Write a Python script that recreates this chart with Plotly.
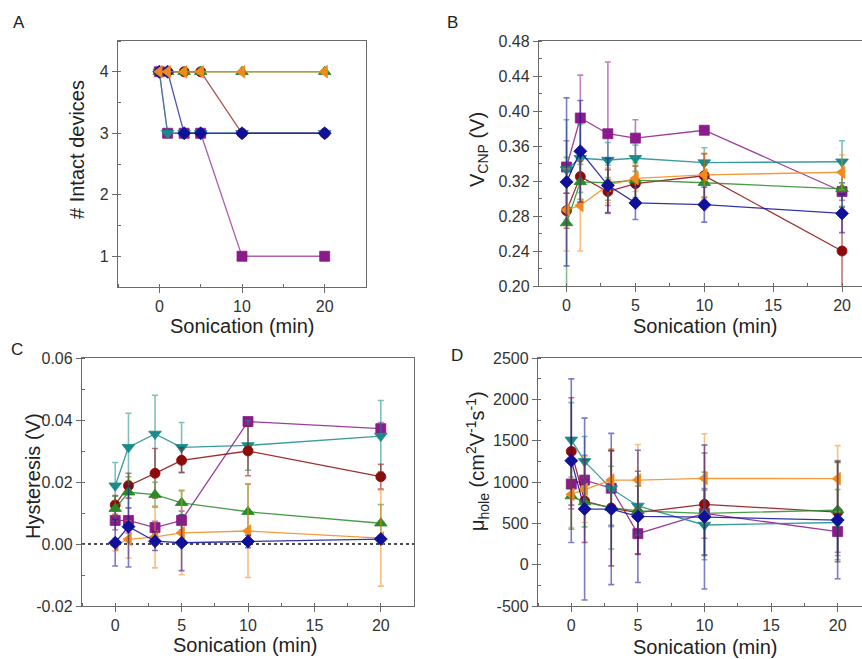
import plotly.graph_objects as go

W, H = 862, 659

# Sonication time points (min)
time = [0, 1, 3, 5, 10, 20]

# Series styling keys
series = ["purple", "red", "green", "teal", "orange", "blue"]
colors = {
    "purple": "#8B1B8B",
    "red": "#8B0A0A",
    "green": "#2A8A2A",
    "teal": "#1A8A8A",
    "orange": "#F08A1C",
    "blue": "#10109A",
}
symbols = {
    "purple": "square",
    "red": "circle",
    "green": "triangle-up",
    "teal": "triangle-down",
    "orange": "triangle-left",
    "blue": "diamond",
}

# (A) number of intact devices
intact_purple = [4, 3, 3, 3, 1, 1]
intact_red = [4, 4, 4, 4, 3, 3]
intact_green = [4, 4, 4, 4, 4, 4]
intact_teal = [4, 3, 3, 3, 3, 3]
intact_orange = [4, 4, 4, 4, 4, 4]
intact_blue = [4, 4, 3, 3, 3, 3]

# (B) charge-neutrality point voltage (V) and error
vcnp_purple = [0.336, 0.392, 0.374, 0.369, 0.378, 0.308]
vcnp_red = [0.286, 0.325, 0.308, 0.317, 0.326, 0.240]
vcnp_green = [0.272, 0.319, 0.318, 0.321, 0.318, 0.311]
vcnp_teal = [0.333, 0.346, 0.344, 0.346, 0.341, 0.342]
vcnp_orange = [0.287, 0.292, 0.315, 0.323, 0.327, 0.330]
vcnp_blue = [0.319, 0.354, 0.315, 0.295, 0.293, 0.283]
vcnp_err_purple = [0.030, 0.049, 0.082, 0.021, 0.004, 0.010]
vcnp_err_red = [0.020, 0.030, 0.025, 0.020, 0.025, 0.050]
vcnp_err_green = [0.075, 0.020, 0.020, 0.020, 0.020, 0.020]
vcnp_err_teal = [0.057, 0.039, 0.020, 0.015, 0.017, 0.024]
vcnp_err_orange = [0.047, 0.052, 0.020, 0.015, 0.025, 0.020]
vcnp_err_blue = [0.096, 0.058, 0.031, 0.019, 0.020, 0.022]

# (C) hysteresis (V) and error
hyst_purple = [0.0076, 0.0076, 0.0053, 0.0076, 0.0395, 0.0372]
hyst_red = [0.0126, 0.0188, 0.0228, 0.0270, 0.0300, 0.0217]
hyst_green = [0.0114, 0.0167, 0.0159, 0.0133, 0.0104, 0.0067]
hyst_teal = [0.0188, 0.0312, 0.0355, 0.0312, 0.0318, 0.0348]
hyst_orange = [-0.0002, 0.0015, 0.0023, 0.0036, 0.0042, 0.0019]
hyst_blue = [0.0004, 0.0056, 0.0009, 0.0004, 0.0008, 0.0016]
hyst_err_purple = [0.003, 0.004, 0.002, 0.003, 0.001, 0.002]
hyst_err_red = [0.003, 0.004, 0.008, 0.004, 0.008, 0.004]
hyst_err_green = [0.004, 0.005, 0.004, 0.004, 0.009, 0.006]
hyst_err_teal = [0.0075, 0.011, 0.0125, 0.008, 0.008, 0.0115]
hyst_err_orange = [0.002, 0.006, 0.010, 0.0135, 0.015, 0.0155]
hyst_err_blue = [0.0075, 0.013, 0.003, 0.009, 0.002, 0.001]

# (D) hole mobility (cm2/Vs) and error
mob_purple = [975, 1023, 925, 375, 620, 400]
mob_red = [1370, 770, 685, 630, 730, 635]
mob_green = [830, 757, 690, 650, 620, 660]
mob_teal = [1510, 1250, 920, 710, 480, 510]
mob_orange = [850, 910, 1023, 1023, 1044, 1040]
mob_blue = [1258, 673, 673, 584, 576, 540]
mob_err_purple = [300, 300, 450, 250, 300, 250]
mob_err_red = [650, 500, 700, 500, 620, 600]
mob_err_green = [400, 300, 500, 300, 500, 600]
mob_err_teal = [450, 300, 460, 350, 420, 400]
mob_err_orange = [400, 400, 380, 430, 540, 400]
mob_err_blue = [990, 1100, 915, 800, 870, 710]

# tick labels for axes that reach negative values (plain hyphen minus)
hyst_ticks = [-0.02, 0.0, 0.02, 0.04, 0.06]
hyst_ticktext = ["-0.02", "0.00", "0.02", "0.04", "0.06"]
mob_ticks = [-500, 0, 500, 1000, 1500, 2000, 2500]
mob_ticktext = ["-500", "0", "500", "1000", "1500", "2000", "2500"]

intact = dict(purple=intact_purple, red=intact_red, green=intact_green,
              teal=intact_teal, orange=intact_orange, blue=intact_blue)
vcnp = dict(purple=vcnp_purple, red=vcnp_red, green=vcnp_green,
            teal=vcnp_teal, orange=vcnp_orange, blue=vcnp_blue)
vcnp_err = dict(purple=vcnp_err_purple, red=vcnp_err_red, green=vcnp_err_green,
                teal=vcnp_err_teal, orange=vcnp_err_orange, blue=vcnp_err_blue)
hyst = dict(purple=hyst_purple, red=hyst_red, green=hyst_green,
            teal=hyst_teal, orange=hyst_orange, blue=hyst_blue)
hyst_err = dict(purple=hyst_err_purple, red=hyst_err_red, green=hyst_err_green,
                teal=hyst_err_teal, orange=hyst_err_orange, blue=hyst_err_blue)
mob = dict(purple=mob_purple, red=mob_red, green=mob_green,
           teal=mob_teal, orange=mob_orange, blue=mob_blue)
mob_err = dict(purple=mob_err_purple, red=mob_err_red, green=mob_err_green,
               teal=mob_err_teal, orange=mob_err_orange, blue=mob_err_blue)


def px_x(x):
    return x / W


def px_y(y):
    return 1 - y / H


def rgba(hexc, a):
    h = hexc.lstrip("#")
    r, g, b = int(h[0:2], 16), int(h[2:4], 16), int(h[4:6], 16)
    return f"rgba({r},{g},{b},{a})"


fig = go.Figure()

order_a = ["purple", "red", "green", "teal", "blue", "orange"]
order_other = ["purple", "teal", "red", "green", "orange", "blue"]


def add_series(data, err, xa, ya, order, line_alpha=0.85):
    for s in order:
        c = colors[s]
        sz = 11 if "triangle" in symbols[s] else 10
        kw = {}
        if err is not None:
            kw["error_y"] = dict(type="data", array=err[s], visible=True,
                                 color=rgba(c, 0.55), thickness=1.6, width=3)
        fig.add_trace(go.Scatter(
            x=time, y=data[s], xaxis=xa, yaxis=ya, mode="lines+markers",
            line=dict(color=rgba(c, line_alpha), width=1.3),
            marker=dict(symbol=symbols[s], size=sz, color=c,
                        line=dict(color=c, width=0.8)),
            showlegend=False, name=s, **kw))


add_series(intact, None, "x", "y", order_a, line_alpha=0.7)
add_series(vcnp, vcnp_err, "x2", "y2", order_other)
add_series(hyst, hyst_err, "x3", "y3", order_other)
add_series(mob, mob_err, "x4", "y4", order_other)

FONT = "Liberation Sans, Arial, sans-serif"
AX = "#6a6a6a"


def xax(domain, rng, dtick, minor_dtick):
    return dict(domain=domain, range=rng, dtick=dtick, tick0=0,
                showline=True, linecolor=AX, linewidth=1.3, mirror=True,
                ticks="outside", ticklen=5, tickcolor=AX, tickwidth=1.2,
                minor=dict(dtick=minor_dtick, ticks="inside", ticklen=3,
                           tickcolor=AX, tick0=0),
                showgrid=False, zeroline=False, automargin=False,
                tickfont=dict(family=FONT, size=16, color="#333"))


def yax(domain, rng, dtick, minor_dtick, mirror=True, fmt=None, tick0=0,
        tickvals=None, ticktext=None):
    d = dict(domain=domain, range=rng, dtick=dtick, tick0=tick0,
             showline=True, linecolor=AX, linewidth=1.3, mirror=mirror,
             ticks="outside", ticklen=5, tickcolor=AX, tickwidth=1.2,
             minor=dict(dtick=minor_dtick, ticks="inside", ticklen=3,
                        tickcolor=AX, tick0=tick0),
             showgrid=False, zeroline=False, automargin=False,
             tickfont=dict(family=FONT, size=16, color="#333"))
    if fmt:
        d["tickformat"] = fmt
    if tickvals is not None:
        d["tickmode"] = "array"
        d["tickvals"] = tickvals
        d["ticktext"] = ticktext
    return d


# panel frames in pixel coordinates
A = (118, 366, 41, 287)
B = (539, 862, 41, 286)
C = (82, 414, 358, 606)
D = (538, 862, 358, 606)


def dom(p):
    x0, x1, y0, y1 = p
    return [px_x(x0), px_x(x1)], [px_y(y1), px_y(y0)]


ax_, ay_ = dom(A)
bx_, by_ = dom(B)
cx_, cy_ = dom(C)
dx_, dy_ = dom(D)

fig.update_layout(
    width=W, height=H, margin=dict(l=0, r=0, t=0, b=0),
    paper_bgcolor="white", plot_bgcolor="white",
    font=dict(family=FONT, color="#222"),
    xaxis=xax(ax_, [-5, 25], 10, 5),
    yaxis=yax(ay_, [0.5, 4.5], 1, 0.5, tick0=0),
    xaxis2=xax(bx_, [-2, 21.45], 5, 2.5),
    yaxis2=yax(by_, [0.20, 0.48], 0.04, 0.02, mirror=False, fmt=".2f"),
    xaxis3=xax(cx_, [-2.5, 22.5], 5, 2.5),
    yaxis3=yax(cy_, [-0.02, 0.06], 0.02, 0.01,
               tickvals=hyst_ticks, ticktext=hyst_ticktext),
    xaxis4=xax(dx_, [-2.5, 21.83], 5, 2.5),
    yaxis4=yax(dy_, [-500, 2500], 500, 250, mirror=False,
               tickvals=mob_ticks, ticktext=mob_ticktext),
)
fig.update_layout(xaxis2=dict(anchor="y2"), yaxis2=dict(anchor="x2"),
                  xaxis3=dict(anchor="y3"), yaxis3=dict(anchor="x3"),
                  xaxis4=dict(anchor="y4"), yaxis4=dict(anchor="x4"))

# zero reference in the hysteresis panel
fig.add_shape(type="line", xref="x3 domain", yref="y3", x0=0, x1=1, y0=0, y1=0,
              line=dict(color="#111", width=1.5, dash="dot"), layer="below")

anns = []


def label(text, x, y, size, angle=0):
    anns.append(dict(text=text, x=px_x(x), y=px_y(y), xref="paper", yref="paper",
                     showarrow=False, textangle=angle, xanchor="center",
                     yanchor="middle", font=dict(family=FONT, size=size, color="#222")))


# panel letters
label("A", 19, 23, 17)
label("B", 452, 23, 17)
label("C", 17, 349, 17)
label("D", 457, 356, 17)

# axis titles
label("Sonication (min)", 242, 326, 20)
label("Sonication (min)", 705, 326, 20)
label("Sonication (min)", 245, 645, 20)
label("Sonication (min)", 705, 647, 20)
label("# Intact devices", 77, 150, 20, -90)
label("V<sub>CNP</sub> (V)", 479, 150, 20, -90)
label("Hysteresis (V)", 33, 476, 20, -90)
label("μ<sub>hole</sub> (cm<sup>2</sup>V<sup>-1</sup>s<sup>-1</sup>)", 477, 461, 20, -90)

fig.update_layout(annotations=anns)

fig.write_html("out.html")
